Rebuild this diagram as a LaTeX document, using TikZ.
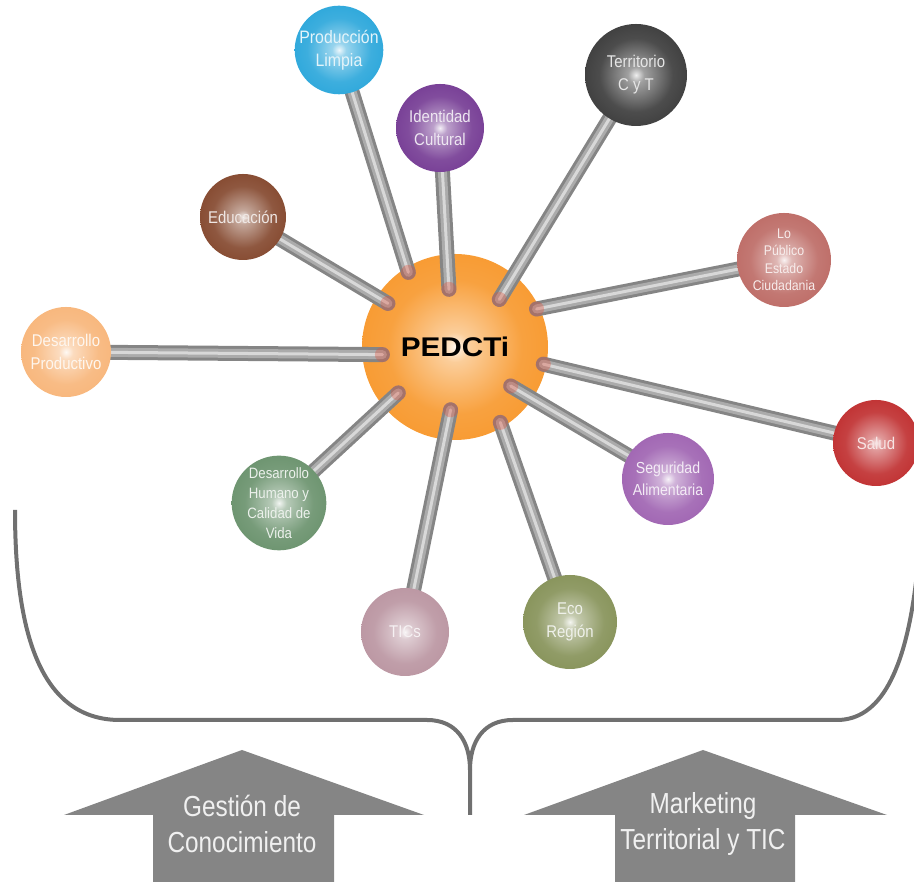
\documentclass[tikz,border=0pt]{standalone}
\usepackage{fontspec}
\setmainfont{Liberation Sans}[FakeStretch=0.88]
\newfontfamily\plainsans{Liberation Sans}[FakeStretch=0.84]
\newfontfamily\hubfont{Liberation Sans}[FakeStretch=1.1]
\usetikzlibrary{calc}

\definecolor{cHub}{HTML}{F7911E}
\definecolor{cLimpia}{HTML}{1BA0D8}
\definecolor{cCultura}{HTML}{6B2D8C}
\definecolor{cTerritorio}{HTML}{2D2D2D}
\definecolor{cPublico}{HTML}{B8605A}
\definecolor{cEduca}{HTML}{7B3A1E}
\definecolor{cProductivo}{HTML}{F7B070}
\definecolor{cHumano}{HTML}{5F8A62}
\definecolor{cTics}{HTML}{B58D9A}
\definecolor{cEco}{HTML}{7D8A4C}
\definecolor{cSeguridad}{HTML}{9858AC}
\definecolor{cSalud}{HTML}{BB1F20}
\definecolor{rodedge}{HTML}{858585}
\definecolor{rodmid}{HTML}{ABABAB}
\definecolor{rodlight}{HTML}{D8D8D8}
\definecolor{rodtip}{HTML}{E0503A}
\definecolor{bracegray}{HTML}{707070}
\definecolor{arrowgray}{HTML}{858585}

\pgfdeclarelayer{back}
\pgfdeclarelayer{mid}
\pgfsetlayers{back,mid,main}

\colorlet{orbcol}{cHub}
\pgfdeclareradialshading[orbcol]{orb}{\pgfpoint{0bp}{0bp}}{%
  color(0bp)=(orbcol!8!white); color(4bp)=(orbcol!45!white);
  color(18bp)=(orbcol!85!white); color(38bp)=(orbcol);
  color(50bp)=(orbcol!78!black); color(60bp)=(orbcol!78!black)}

\begin{document}
\begin{tikzpicture}[x=1pt,y=1pt,
  hue/.code={\colorlet{orbcol}{#1}},
  orb/.style={circle, inner sep=0pt, align=center, shading=orb,
    text=orbcol!12!white, font=\fontsize{17}{23}\selectfont},
  rod/.style={line cap=round, line width=15pt, draw=rodedge,
    postaction={draw=rodmid, line width=9pt},
    postaction={draw=rodlight, line width=3pt}},
  armtext/.style={align=center, text=white!94!black,
    font=\plainsans\fontsize{29}{36}\selectfont}]
\path[use as bounding box, clip] (0,0) rectangle (914,882);

% centre
\begin{pgfonlayer}{back}
\node[orb, hue=cHub, minimum size=186pt, text=black,
  font=\hubfont\bfseries\fontsize{27}{30}\selectfont] (hub) at (455,535) {PEDCTi};
\end{pgfonlayer}

% themes
\node[orb, hue=cLimpia, minimum size=88pt, font=\fontsize{18}{23}\selectfont] (pl) at (339,832) {Producción\\Limpia};
\node[orb, hue=cCultura, minimum size=88pt] (ic) at (440,754) {Identidad\\Cultural};
\node[orb, hue=cTerritorio, minimum size=102pt] (tc) at (636,807) {Territorio\\C y T};
\node[orb, hue=cPublico, minimum size=94pt, font=\fontsize{14}{17.5}\selectfont] (lp) at (784,622) {Lo\\Público\\Estado\\Ciudadania};
\node[orb, hue=cEduca, minimum size=86pt] (ed) at (243,665) {Educación};
\node[orb, hue=cProductivo, minimum size=90pt] (dp) at (66,530) {Desarrollo\\Productivo};
\node[orb, hue=cHumano, minimum size=90pt, font=\fontsize{15}{20}\selectfont] (dh) at (279,379) {Desarrollo\\Humano y\\Calidad de\\Vida};
\node[orb, hue=cTics, minimum size=88pt] (ti) at (405,250) {TICs};
\node[orb, hue=cEco, minimum size=94pt] (er) at (570,260) {Eco\\Región};
\node[orb, hue=cSeguridad, minimum size=92pt, font=\fontsize{16}{22}\selectfont] (sa) at (668,403) {Seguridad\\Alimentaria};
\node[orb, hue=cSalud, minimum size=86pt] (sd) at (876,439) {Salud};

% rods
\begin{pgfonlayer}{mid}
\foreach \s/\a/\r in {ed/147/80, pl/122/88, ic/96/58, tc/47/65, lp/25/90,
    sd/-11/90, sa/-35/68, er/-59/88, ti/-94/63, dh/-141/73, dp/-174/73} {
  \draw[rod] (\s.center) -- ($(hub.center)+(\a:\r)$);
  \fill[rodtip, opacity=0.35] ($(hub.center)+(\a:\r)$) circle (7.5);
}
\end{pgfonlayer}

% brace
\draw[bracegray, line width=4pt] (15,372) .. controls (15,250) and (40,162) .. (120,162)
  -- (427,162) .. controls (457,162) and (470,140) .. (470,112) -- (470,67);
\draw[bracegray, line width=4pt] (470,112) .. controls (470,140) and (483,162) .. (513,162)
  -- (837,162) .. controls (880,162) and (905,210) .. (916,300);

% arrows
\fill[arrowgray] (242,132) -- (424,67) -- (334,67) -- (334,0) -- (153,0) -- (153,67) -- (64,67) -- cycle;
\fill[arrowgray] (703,132) -- (887,67) -- (795,67) -- (795,0) -- (615,0) -- (615,67) -- (524,67) -- cycle;
\node[armtext] (gc) at (242,58) {Gestión de\\Conocimiento};
\node[armtext] (mt) at (703,58) {Marketing\\Territorial y TIC};
\end{tikzpicture}
\end{document}
